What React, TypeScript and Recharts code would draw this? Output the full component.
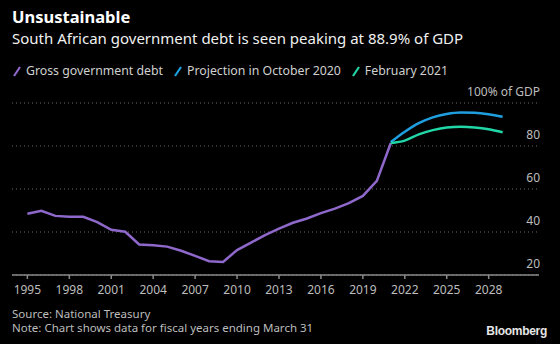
import React from 'react'
import { LineChart, Line, XAxis, YAxis, CartesianGrid } from 'recharts'

const debtYears = [1995, 1996, 1997, 1998, 1999, 2000, 2001, 2002, 2003, 2004, 2005, 2006, 2007, 2008, 2009, 2010, 2011, 2012, 2013, 2014, 2015, 2016, 2017, 2018, 2019, 2020, 2021]
const grossDebt = [48.5, 49.9, 47.5, 47.1, 47.1, 44.6, 41.0, 40.1, 34.2, 33.8, 33.2, 31.3, 28.9, 26.4, 26.1, 31.6, 35.1, 38.5, 41.6, 44.3, 46.3, 48.8, 50.9, 53.4, 56.8, 63.8, 81.4]

const projYears = [2021, 2022, 2023, 2024, 2025, 2026, 2027, 2028, 2029]
const october2020 = [81.8, 86.6, 90.6, 93.3, 94.9, 95.6, 95.5, 94.8, 93.6]
const february2021 = [81.4, 82.5, 85.4, 87.4, 88.6, 88.9, 88.6, 87.8, 86.4]

const xTicks = [1995, 1998, 2001, 2004, 2007, 2010, 2013, 2016, 2019, 2022, 2025, 2028]
const yTicks = [20, 40, 60, 80, 100]

const PURPLE = '#8f68cc'
const BLUE = '#1f9fe0'
const GREEN = '#21d6a7'
const FONT = '"Noto Sans", sans-serif'

const rows = Array.from(new Set([...debtYears, ...projYears])).map((year) => {
  const di = debtYears.indexOf(year)
  const pi = projYears.indexOf(year)
  return {
    year,
    debt: di >= 0 ? grossDebt[di] : null,
    oct: pi >= 0 ? october2020[pi] : null,
    feb: pi >= 0 ? february2021[pi] : null,
  }
})

const renderYTick = (props: any) => {
  const { y, payload } = props
  const label = payload.value === 100 ? '100% of GDP' : String(payload.value)
  // labels sit right-aligned at the plot's right edge, just above each gridline
  return (
    <text x={540} y={y - 7} textAnchor="end" fill="#bdbdbd" fontSize={12} fontFamily={FONT}>
      {label}
    </text>
  )
}

const LegendItem = ({ color, label }: { color: string; label: string }) => (
  <span style={{ display: 'inline-flex', alignItems: 'center', marginRight: 10 }}>
    <svg width={10} height={12} style={{ marginRight: 4 }}>
      <line x1={2} y1={11} x2={8} y2={2} stroke={color} strokeWidth={2.2} />
    </svg>
    {label}
  </span>
)

export default function App() {
  return (
    <div style={{ position: 'absolute', left: 0, top: 0, width: 560, height: 344, background: '#000', fontFamily: FONT, overflow: 'hidden' }}>
      <div style={{ position: 'absolute', left: 12, top: 5, color: '#fff', fontWeight: 700, fontSize: 16.5 }}>Unsustainable</div>
      <div style={{ position: 'absolute', left: 12, top: 28, color: '#f0f0f0', fontSize: 15 }}>
        South African government debt is seen peaking at 88.9% of GDP
      </div>
      <div style={{ position: 'absolute', left: 12, top: 62, color: '#d0d0d0', fontSize: 12.3, display: 'flex' }}>
        <LegendItem color={PURPLE} label="Gross government debt" />
        <LegendItem color={BLUE} label="Projection in October 2020" />
        <LegendItem color={GREEN} label="February 2021" />
      </div>
      <LineChart
        width={560}
        height={344}
        data={rows}
        margin={{ top: 103, right: 20, bottom: 39, left: 12 }}
        style={{ position: 'absolute', left: 0, top: 0 }}
      >
        <CartesianGrid horizontal vertical={false} stroke="#6a6a6a" strokeDasharray="1 3" />
        <XAxis
          dataKey="year"
          type="number"
          height={30}
          domain={[1993.9, 2031.6]}
          allowDataOverflow
          ticks={xTicks}
          interval={0}
          stroke="#8a8a8a"
          strokeWidth={1.5}
          tickSize={4}
          tick={{ fill: '#bdbdbd', fontSize: 12, fontFamily: FONT }}
          tickMargin={6}
        />
        <YAxis
          orientation="right"
          domain={[20, 100]}
          ticks={yTicks}
          allowDataOverflow
          axisLine={false}
          tickLine={false}
          width={1}
          tick={renderYTick}
        />
        <Line dataKey="debt" stroke={PURPLE} strokeWidth={2.5} dot={false} type="linear" isAnimationActive={false} connectNulls={false} />
        <Line dataKey="oct" stroke={BLUE} strokeWidth={2.5} dot={false} type="monotone" isAnimationActive={false} connectNulls={false} />
        <Line dataKey="feb" stroke={GREEN} strokeWidth={2.5} dot={false} type="monotone" isAnimationActive={false} connectNulls={false} />
      </LineChart>
      <div style={{ position: 'absolute', left: 12, top: 307, color: '#bdbdbd', fontSize: 11.5, lineHeight: '14px' }}>
        Source: National Treasury
        <br />
        Note: Chart shows data for fiscal years ending March 31
      </div>
      <div style={{ position: 'absolute', right: 13, top: 324, color: '#e6e6e6', fontSize: 12, fontWeight: 700, fontFamily: '"Liberation Sans", Arial, sans-serif', letterSpacing: -0.3 }}>
        Bloomberg
      </div>
    </div>
  )
}
